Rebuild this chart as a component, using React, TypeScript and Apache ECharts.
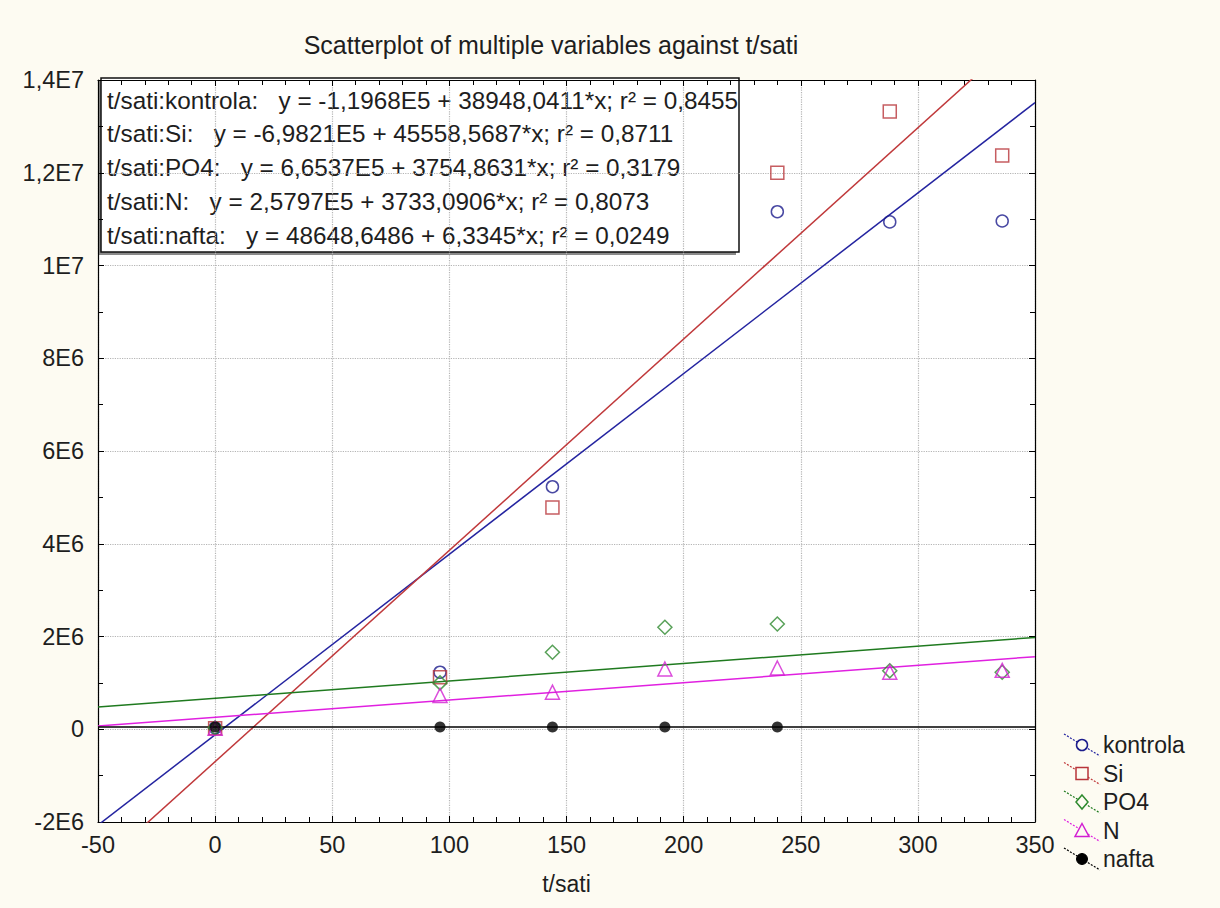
import React, { useEffect, useRef } from "react";
import * as echarts from "echarts";

// ---- data ----
const seriesNames = ["kontrola", "Si", "PO4", "N", "nafta"];
const xKontrola = [0, 96, 144, 240, 288, 336];
const yKontrola = [30000, 1230000, 5230000, 11160000, 10940000, 10960000];
const xSi = [0, 96, 144, 240, 288, 336];
const ySi = [20000, 1120000, 4780000, 12000000, 13320000, 12370000];
const xPO4 = [0, 96, 144, 192, 240, 288, 336];
const yPO4 = [30000, 1000000, 1660000, 2200000, 2270000, 1260000, 1230000];
const xN = [0, 96, 144, 192, 240, 288, 336];
const yN = [20000, 730000, 800000, 1300000, 1320000, 1230000, 1270000];
const xNafta = [0, 96, 144, 192, 240];
const yNafta = [50000, 50000, 50000, 50000, 50000];
const intercepts = [-1.1968e5, -6.9821e5, 6.6537e5, 2.5797e5, 48648.6486];
const slopes = [38948.0411, 45558.5687, 3754.8631, 3733.0906, 6.3345];
const equationLines = [
  "t/sati:kontrola:\u00a0\u00a0 y = -1,1968E5 + 38948,0411*x; r² = 0,8455",
  "t/sati:Si:\u00a0\u00a0 y = -6,9821E5 + 45558,5687*x; r² = 0,8711",
  "t/sati:PO4:\u00a0\u00a0 y = 6,6537E5 + 3754,8631*x; r² = 0,3179",
  "t/sati:N:\u00a0\u00a0 y = 2,5797E5 + 3733,0906*x; r² = 0,8073",
  "t/sati:nafta:\u00a0\u00a0 y = 48648,6486 + 6,3345*x; r² = 0,0249",
];
const xMin = -50;
const xMax = 350;
const xStep = 50;
const yMin = -2e6;
const yMax = 1.4e7;
const yStep = 2e6;
const yTickLabels = ["-2E6", "0", "2E6", "4E6", "6E6", "8E6", "1E7", "1,2E7", "1,4E7"];
const titleText = "Scatterplot of multiple variables against t/sati";
const xAxisName = "t/sati";

// ---- styles ----
const FONT = "'Liberation Sans', Arial, sans-serif";
const TEXT = "#1e1e1e";
const BG = "#fdfbf2";
const markerColors = ["#1c1c8c", "#b8343a", "#2f8a2f", "#d21fd2", "#000000"];
const lineColors = ["#2424a0", "#c0393b", "#1f7a1f", "#e020e0", "#000000"];
const symbols = ["circle", "rect", "diamond", "triangle", "circle"];
const symbolSizes = [12, 13, 14, 14, 11];

const xsAll = [xKontrola, xSi, xPO4, xN, xNafta];
const ysAll = [yKontrola, ySi, yPO4, yN, yNafta];

export default function App() {
  const ref = useRef<HTMLDivElement>(null);
  useEffect(() => {
    document.body.style.margin = "0";
    document.body.style.background = BG;
    const chart = echarts.init(ref.current!, undefined, { renderer: "svg" });

    const scatterSeries = seriesNames.map((name, i) => ({
      name,
      type: "scatter",
      xAxisIndex: 0,
      yAxisIndex: 0,
      symbol: symbols[i],
      symbolSize: symbolSizes[i],
      data: xsAll[i].map((x, j) => [x, ysAll[i][j]]),
      itemStyle:
        i === 4
          ? { color: markerColors[i] }
          : { color: "rgba(255,255,255,0)", borderColor: markerColors[i], borderWidth: 1.5 },
      z: 5,
    }));
    const lineSeries = seriesNames.map((name, i) => ({
      name: name + " fit",
      type: "line",
      xAxisIndex: 0,
      yAxisIndex: 0,
      showSymbol: false,
      symbol: "none",
      clip: true,
      data: [xMin, xMax].map((x) => [x, intercepts[i] + slopes[i] * x]),
      lineStyle: { color: lineColors[i], width: 1.5 },
      z: 3,
    }));

    // legend (right bottom) as graphics
    const legendY0 = 745;
    const legendDy = 28.5;
    const legendEls: any[] = [];
    seriesNames.forEach((name, i) => {
      const cy = legendY0 + i * legendDy;
      const cx = 1082;
      legendEls.push({
        type: "line",
        shape: { x1: cx - 18, y1: cy - 11, x2: cx + 18, y2: cy + 11 },
        style: { stroke: lineColors[i], lineWidth: 1.2, lineDash: [2, 1.5] },
      });
      const st =
        i === 4
          ? { fill: markerColors[i], stroke: markerColors[i], lineWidth: 1 }
          : { fill: BG, stroke: markerColors[i], lineWidth: 1.5 };
      if (symbols[i] === "circle") {
        legendEls.push({ type: "circle", shape: { cx, cy, r: 5.5 }, style: st });
      } else if (symbols[i] === "rect") {
        legendEls.push({ type: "rect", shape: { x: cx - 6, y: cy - 6, width: 12, height: 12 }, style: st });
      } else if (symbols[i] === "diamond") {
        legendEls.push({
          type: "polygon",
          shape: { points: [[cx, cy - 7], [cx + 6, cy], [cx, cy + 7], [cx - 6, cy]] },
          style: st,
        });
      } else {
        legendEls.push({
          type: "polygon",
          shape: { points: [[cx, cy - 7], [cx + 7, cy + 6], [cx - 7, cy + 6]] },
          style: st,
        });
      }
      legendEls.push({
        type: "text",
        x: 1103,
        y: cy,
        style: { text: name, font: `23px ${FONT}`, fill: TEXT, textVerticalAlign: "middle", textAlign: "left" },
      });
    });

    // equation box
    const boxX = 101;
    const boxY = 78;
    const boxW = 638;
    const boxH = 174;
    const eqEls: any[] = [
      { type: "rect", shape: { x: boxX - 3, y: boxY + 3, width: boxW, height: boxH }, style: { fill: "#8a8a8a" } },
      { type: "rect", shape: { x: boxX, y: boxY, width: boxW, height: boxH }, style: { fill: "#ffffff", stroke: "#111", lineWidth: 1.5 } },
    ];
    equationLines.forEach((t, i) => {
      eqEls.push({
        type: "text",
        x: boxX + 6,
        y: boxY + 22 + i * 33.8,
        style: { text: t, font: `24.3px ${FONT}`, fill: TEXT, textVerticalAlign: "middle", textAlign: "left" },
      });
    });

    const axisCommon = {
      min: xMin,
      max: xMax,
      interval: xStep,
    };

    chart.setOption({
      animation: false,
      backgroundColor: BG,
      title: {
        text: titleText,
        left: 546,
        top: 27,
        textAlign: "center",
        textStyle: { fontFamily: FONT, fontSize: 25, fontWeight: "normal", color: TEXT },
      },
      grid: { left: 98, right: 185, top: 80, bottom: 86, show: true, backgroundColor: "#ffffff", borderWidth: 0 },
      xAxis: [
        {
          type: "value",
          ...axisCommon,
          position: "bottom",
          name: xAxisName,
          nameLocation: "middle",
          nameGap: 50,
          nameTextStyle: { fontFamily: FONT, fontSize: 23, color: TEXT },
          axisLine: { show: true, onZero: false, lineStyle: { color: "#000", width: 1.2 } },
          axisTick: { show: true, inside: true, length: 6, lineStyle: { color: "#000" } },
          minorTick: { show: true, splitNumber: 5, length: 5, lineStyle: { color: "#000" } },
          axisLabel: { fontFamily: FONT, fontSize: 23.5, color: TEXT, margin: 11 },
          splitLine: { show: true, lineStyle: { color: "#b5b5b5", type: "dotted", width: 1.2 } },
        },
        {
          type: "value",
          ...axisCommon,
          position: "top",
          axisLine: { show: true, onZero: false, lineStyle: { color: "#000", width: 1.2 } },
          axisTick: { show: true, inside: true, length: 6, lineStyle: { color: "#000" } },
          minorTick: { show: true, splitNumber: 5, length: 5, lineStyle: { color: "#000" } },
          axisLabel: { show: false },
          splitLine: { show: false },
        },
      ],
      yAxis: [
        {
          type: "value",
          min: yMin,
          max: yMax,
          interval: yStep,
          position: "left",
          axisLine: { show: true, onZero: false, lineStyle: { color: "#000", width: 1.2 } },
          axisTick: { show: true, inside: true, length: 6, lineStyle: { color: "#000" } },
          minorTick: { show: true, splitNumber: 2, length: 5, lineStyle: { color: "#000" } },
          axisLabel: {
            fontFamily: FONT,
            fontSize: 23.5,
            color: TEXT,
            margin: 14,
            formatter: (v: number) => yTickLabels[Math.round((v - yMin) / yStep)] ?? "",
          },
          splitLine: { show: true, lineStyle: { color: "#b5b5b5", type: "dotted", width: 1.2 } },
        },
        {
          type: "value",
          min: yMin,
          max: yMax,
          interval: yStep,
          position: "right",
          axisLine: { show: true, onZero: false, lineStyle: { color: "#000", width: 1.2 } },
          axisTick: { show: true, inside: true, length: 6, lineStyle: { color: "#000" } },
          minorTick: { show: true, splitNumber: 2, length: 5, lineStyle: { color: "#000" } },
          axisLabel: { show: false },
          splitLine: { show: false },
        },
      ],
      series: [...lineSeries, ...scatterSeries],
      graphic: [
        { type: "group", z: 100, children: eqEls },
        { type: "group", z: 100, children: legendEls },
      ],
    });
    return () => chart.dispose();
  }, []);
  return <div ref={ref} style={{ width: 1220, height: 908 }} />;
}
